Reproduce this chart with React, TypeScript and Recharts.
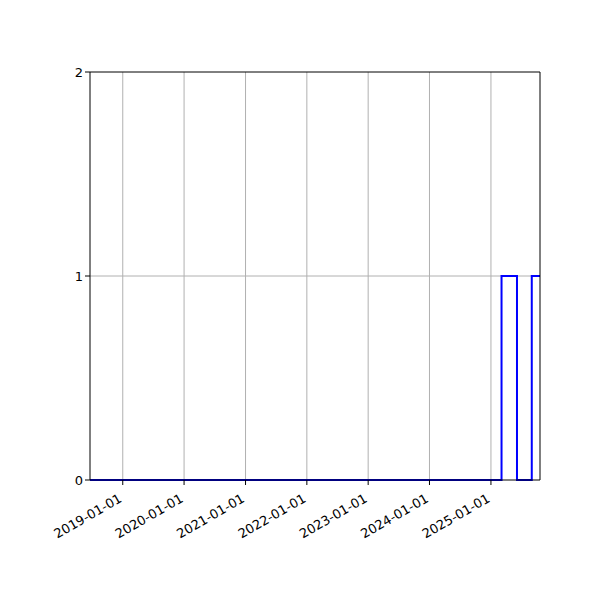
import React from "react";
import { CartesianGrid, Line, LineChart, ReferenceLine, XAxis, YAxis } from "recharts";

// step points (date where the value starts)
const stepDates = ["2018-06-20", "2025-03-05", "2025-06-05", "2025-09-01", "2025-10-20"];
const stepValues = [0, 1, 0, 1, 1];

const xTickLabels = [
  "2019-01-01",
  "2020-01-01",
  "2021-01-01",
  "2022-01-01",
  "2023-01-01",
  "2024-01-01",
  "2025-01-01",
];
const yTicks = [0, 1, 2];
const yGridValues = [1];

const data = stepDates.map((d, i) => ({ t: Date.parse(d), v: stepValues[i] }));
const xTicks = xTickLabels.map((d) => Date.parse(d));
const xMin = data[0].t;
const xMax = data[data.length - 1].t;

const fmt = (t: number) => new Date(t).toISOString().slice(0, 10);

const font = "DejaVu Sans, sans-serif";

function DateTick({ x, y, payload }: any) {
  return (
    <text
      x={x}
      y={y + 14}
      textAnchor="end"
      fontSize={13}
      fontFamily={font}
      fill="#000"
      transform={`rotate(-30, ${x}, ${y + 14})`}
    >
      {fmt(payload.value)}
    </text>
  );
}

export default function App() {
  return (
    <div style={{ position: "absolute", left: 0, top: 0, background: "#fff" }}>
      <LineChart
        width={600}
        height={600}
        data={data}
        margin={{ top: 72, right: 60, left: 0, bottom: 0 }}
      >
        <CartesianGrid
          stroke="#b0b0b0"
          strokeWidth={1}
          horizontalValues={yGridValues}
          verticalValues={xTicks}
        />
        <XAxis
          dataKey="t"
          type="number"
          scale="time"
          domain={[xMin, xMax]}
          ticks={xTicks}
          tick={<DateTick />}
          tickLine={{ stroke: "#000" }}
          tickSize={5}
          axisLine={{ stroke: "#000", strokeWidth: 1 }}
          height={120}
          interval={0}
        />
        <YAxis
          type="number"
          domain={[0, 2]}
          ticks={yTicks}
          tick={{ fill: "#000", fontSize: 13, fontFamily: font }}
          tickLine={{ stroke: "#000" }}
          tickSize={5}
          axisLine={{ stroke: "#000" }}
          width={90}
        />
        <Line
          dataKey="v"
          type="stepAfter"
          stroke="#0000ff"
          strokeWidth={2}
          dot={false}
          isAnimationActive={false}
        />
        <ReferenceLine y={2} stroke="#000" strokeWidth={1} />
        <ReferenceLine x={xMax} stroke="#000" strokeWidth={1} />
      </LineChart>
    </div>
  );
}
